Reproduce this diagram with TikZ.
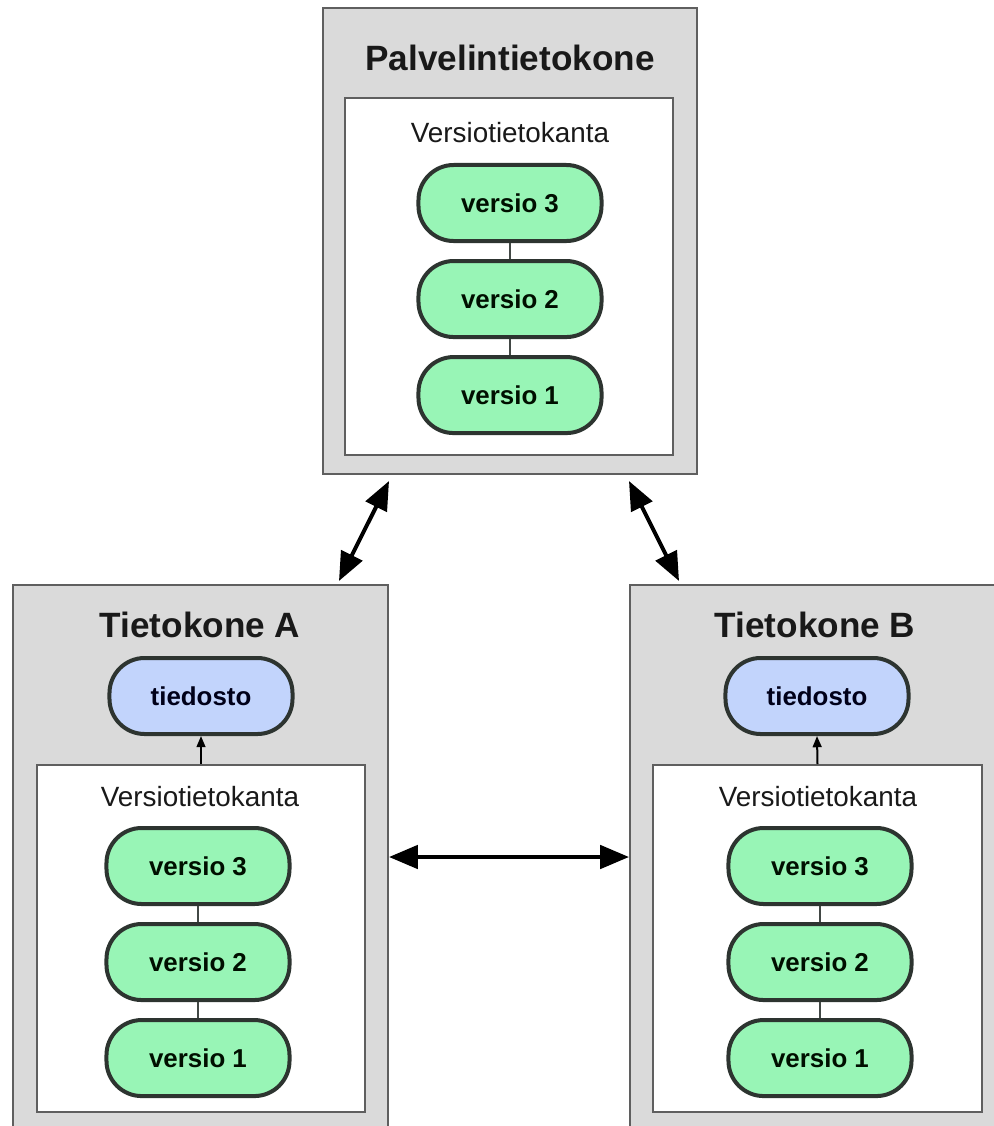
\documentclass[tikz,border=0pt]{standalone}
\usepackage{fontspec}
\setmainfont{Liberation Sans}
\usepackage{tikz}
\usetikzlibrary{arrows.meta,positioning,fit}
\definecolor{Host}{RGB}{218,218,218}
\definecolor{Edge}{RGB}{95,95,95}
\definecolor{Ver}{RGB}{152,245,182}
\definecolor{File}{RGB}{194,212,252}
\definecolor{PEdge}{RGB}{45,52,48}
\tikzset{
  hostbox/.style={draw=Edge,fill=Host,line width=0.05cm,inner sep=0pt},
  dbbox/.style={draw=Edge,fill=white,line width=0.05cm,inner sep=0pt},
  htitle/.style={font=\fontsize{25}{30}\selectfont\bfseries,text=black!90},
  dblab/.style={font=\fontsize{19.8}{24}\selectfont,text=black!90},
  pill/.style={draw=PEdge,line width=0.1cm,rounded corners=0.88cm,minimum width=4.575cm,minimum height=1.9cm,font=\fontsize{18.4}{22}\selectfont\bfseries,inner sep=0pt},
  ver/.style={pill,fill=Ver,text=black!85!green!40!black},
  file/.style={pill,fill=File,text=black!80!blue!50!black},
  vline/.style={draw=PEdge!90,line width=0.05cm},
  farr/.style={{Triangle[length=0.72cm,width=0.58cm]}-{Triangle[length=0.72cm,width=0.58cm]},line width=0.1cm,draw=black},
  sarr/.style={-{Triangle[length=0.28cm,width=0.22cm]},line width=0.05cm,draw=black}
}
\begin{document}
\begin{tikzpicture}[x=0.025cm,y=-0.025cm]
\useasboundingbox (0,0) rectangle (994,1126);
\clip (0,0) rectangle (994,1126);
% server
\node[hostbox, fit={(323,8) (697,474)}] (srv) {};
\node[htitle] (srvT) at (510,58) {Palvelintietokone};
\node[dbbox, fit={(345,98) (673,455)}] (srvDb) {};
\node[dblab] (srvL) at (510,133) {Versiotietokanta};
\node[ver] (sv3) at (510,203) {versio 3};
\node[ver, below=0.4cm of sv3] (sv2) {versio 2};
\node[ver, below=0.4cm of sv2] (sv1) {versio 1};
\draw[vline] (sv3.south) -- (sv2.north);
\draw[vline] (sv2.south) -- (sv1.north);
% computer A
\node[hostbox, fit={(13,585) (388,1129)}] (pcA) {};
\node[htitle] (pcAT) at (200,625) {Tietokone A};
\node[file] (fileA) at (201,696) {tiedosto};
\node[dbbox, fit={(37,765) (365,1112)}] (dbA) {};
\node[dblab] (dbAL) at (200,797) {Versiotietokanta};
\node[ver] (av3) at (198,866) {versio 3};
\node[ver, below=0.4cm of av3] (av2) {versio 2};
\node[ver, below=0.4cm of av2] (av1) {versio 1};
\draw[vline] (av3.south) -- (av2.north);
\draw[vline] (av2.south) -- (av1.north);
\draw[sarr] (dbA.north) -- (fileA.south);
% computer B
\node[hostbox, fit={(630,585) (1006,1129)}] (pcB) {};
\node[htitle] (pcBT) at (815,625) {Tietokone B};
\node[file] (fileB) at (817,696) {tiedosto};
\node[dbbox, fit={(653,765) (982,1112)}] (dbB) {};
\node[dblab] (dbBL) at (818,797) {Versiotietokanta};
\node[ver] (bv3) at (820,866) {versio 3};
\node[ver, below=0.4cm of bv3] (bv2) {versio 2};
\node[ver, below=0.4cm of bv2] (bv1) {versio 1};
\draw[vline] (bv3.south) -- (bv2.north);
\draw[vline] (bv2.south) -- (bv1.north);
\draw[sarr] (dbB.north) -- (fileB.south);
% sync arrows
\draw[farr] ([xshift=1.675cm,yshift=-0.15cm]srv.south west) -- ([xshift=-1.25cm,yshift=0.075cm]pcA.north east);
\draw[farr] ([xshift=-1.725cm,yshift=-0.15cm]srv.south east) -- ([xshift=1.25cm,yshift=0.075cm]pcB.north west);
\draw[farr] (pcA.east) -- (pcB.west);
\end{tikzpicture}
\end{document}
